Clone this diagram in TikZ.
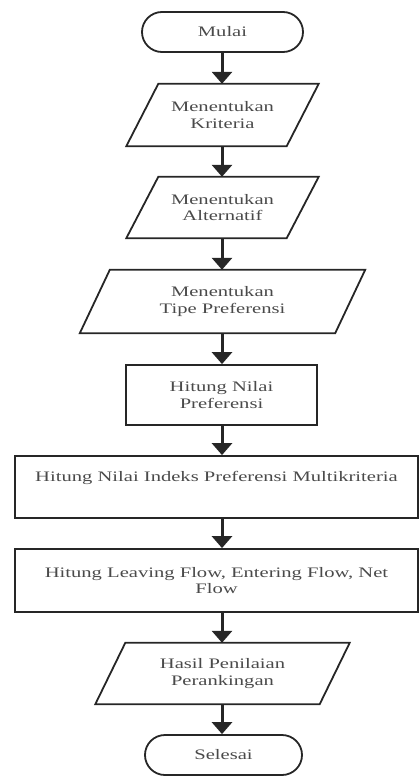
\documentclass[tikz,border=0pt]{standalone}
\usepackage{fontspec}
\setmainfont[FakeStretch=1.42]{Liberation Serif}
\usetikzlibrary{arrows.meta}
\definecolor{linec}{HTML}{262626}
\definecolor{textc}{HTML}{4A4A4A}
\tikzset{
  base/.style={inner sep=0pt, align=center, text=textc,
    font=\fontsize{14.5pt}{16.5pt}\selectfont},
  term/.style={base, draw=linec, line width=1.8pt, rounded corners=20pt},
  boxn/.style={base, draw=linec, line width=1.8pt},
  paran/.style={base},
  paraline/.style={draw=linec, line width=1.8pt, line join=miter},
  flow/.style={draw=linec, line width=3pt, -{Triangle[width=20pt,length=12pt]}},
}
\begin{document}
\begin{tikzpicture}[x=1pt,y=-1pt]
\useasboundingbox (0,0) rectangle (419,776);
% nodes
\node[term, minimum width=161pt, minimum height=40pt] (mulai) at (222.5,32) {Mulai};
\node[paran, minimum width=160pt, minimum height=62pt] (p1) at (222.5,115) {Menentukan\\Kriteria};
\node[paran, minimum width=160pt, minimum height=61pt] (p2) at (222.5,207.5) {Menentukan\\Alternatif};
\node[paran, minimum width=255pt, minimum height=63pt] (p3) at (222.5,301.5) {Menentukan\\Tipe Preferensi};
\node[boxn, minimum width=191pt, minimum height=60pt] (b1) at (221.5,395) {Hitung Nilai\\Preferensi};
\node[boxn, minimum width=403pt, minimum height=62pt] (b2) at (216.5,487) {Hitung Nilai Indeks Preferensi Multikriteria\\\strut};
\node[boxn, minimum width=403pt, minimum height=63pt] (b3) at (216.5,580.5) {Hitung Leaving Flow, Entering Flow, Net\\Flow};
\node[paran, minimum width=224pt, minimum height=61pt] (p4) at (222.5,673.5) {Hasil Penilaian\\Perankingan};
\node[term, minimum width=157pt, minimum height=40pt] (selesai) at (223.5,755) {Selesai};
% parallelogram outlines
\foreach \n/\s in {p1/16, p2/16, p3/15, p4/15}{
  \draw[paraline] ([xshift=\s pt]\n.north west) -- ([xshift=\s pt]\n.north east)
    -- ([xshift=-\s pt]\n.south east) -- ([xshift=-\s pt]\n.south west) -- cycle;
}
% connectors
\coordinate (ax) at (222,0);
\foreach \a/\b in {mulai/p1, p1/p2, p2/p3, p3/b1, b1/b2, b2/b3, b3/p4, p4/selesai}{
  \draw[flow] (ax |- \a.south) -- (ax |- \b.north);
}
\end{tikzpicture}
\end{document}
